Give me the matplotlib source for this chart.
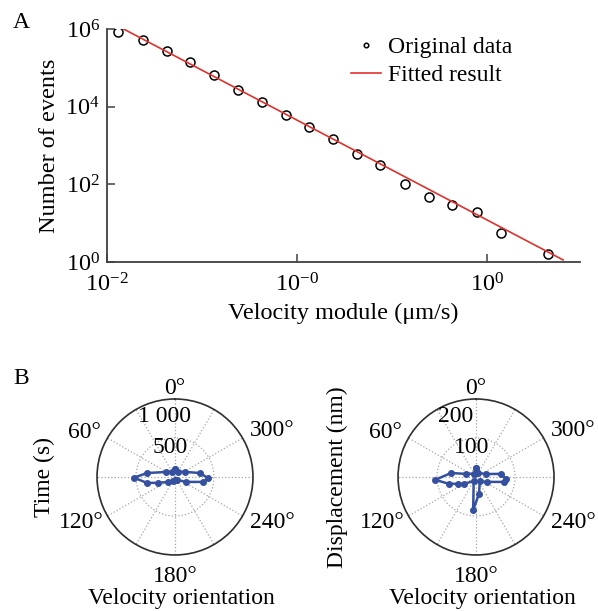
import numpy as np
import matplotlib
matplotlib.use("Agg")
import matplotlib.pyplot as plt

plt.rcParams['font.family'] = ['Liberation Serif', 'DejaVu Serif']
plt.rcParams['mathtext.fontset'] = 'custom'
plt.rcParams['mathtext.rm'] = 'Liberation Serif'
plt.rcParams['mathtext.it'] = 'Liberation Serif:italic'

# ---- panel A data: velocity distribution ----
velocity = [0.0114, 0.0155, 0.0207, 0.0274, 0.0366, 0.0490, 0.0655, 0.0875, 0.1156,
            0.155, 0.207, 0.274, 0.370, 0.495, 0.655, 0.885, 1.186, 2.094]
events = [832000, 525000, 269000, 141000, 66000, 26900, 13200, 6200, 3000,
          1480, 600, 316, 102, 48, 30, 19.5, 5.6, 1.6]
fit_velocity = [0.01143, 2.51]
fit_events = [1.19e6, 1.13]

xtick_vals = [1e-2, 1e-1, 1e0]
xtick_labels = ['$10^{-2}$', '$10^{-0}$', '$10^{0}$']
ytick_vals = [1e0, 1e2, 1e4, 1e6]
ytick_labels = ['$10^{0}$', '$10^{2}$', '$10^{4}$', '$10^{6}$']

# ---- panel B data: rose plots (angle in degrees, radius) ----
time_theta = [0, 30, 61, 82, 91, 102, 109, 125, 150, 180, 214, 246, 260, 268, 279, 297, 330, 360]
time_r = [103, 80, 132, 363, 526, 367, 231, 110, 60, 40, 46, 155, 365, 423, 325, 143, 80, 103]

disp_theta = [0, 30, 73, 81, 94, 104, 111, 120, 150, 175, 190, 220, 246, 260, 266, 277, 287, 330, 360]
disp_r = [23, 10, 27, 65, 105, 72, 49, 35, 12, 85, 44, 15, 31, 73, 77, 65, 26, 12, 23]

theta_grid = list(range(0, 360, 30))
theta_labels = ['0°', '60°', '120°', '180°', '240°', '300°']
# label spots around the circle, in axes fractions
theta_label_pos = [(0.5, 1.064), (-0.083, 0.788), (-0.103, 0.205),
                   (0.5, -0.141), (1.122, 0.205), (1.122, 0.795)]

fig = plt.figure(figsize=(5.98, 6.11), dpi=100)

# Panel A
ax = fig.add_axes([0.1789, 0.5712, 0.791, 0.3813])
ax.plot(velocity, events, 'o', mfc='none', mec='black', ms=6.5, mew=1.1, label='Original data')
ax.plot(fit_velocity, fit_events, '-', color='#e0322d', lw=1.2, label='Fitted result')
ax.set_xscale('log')
ax.set_yscale('log')
ax.set_xlim(1e-2, 3.08)
ax.set_ylim(1e0, 1e6)
ax.set_xticks(xtick_vals)
ax.set_xticklabels(xtick_labels)
ax.set_yticks(ytick_vals)
ax.set_yticklabels(ytick_labels)
ax.minorticks_off()
ax.tick_params(direction='in', length=6, width=1.1, labelsize=17.5, color='#404040')
ax.tick_params(axis='x', pad=8)
ax.tick_params(axis='y', pad=5)
for s in ['top', 'right']:
    ax.spines[s].set_visible(False)
for s in ['left', 'bottom']:
    ax.spines[s].set_color('#404040')
    ax.spines[s].set_linewidth(1.3)
ax.set_xlabel('Velocity module (μm/s)', fontsize=17.5, labelpad=5)
ax.set_ylabel('Number of events', fontsize=17.5, labelpad=4)
leg = ax.legend(loc='upper left', bbox_to_anchor=(0.47, 1.06), frameon=False, fontsize=17,
                handlelength=1.3, handletextpad=0.3, labelspacing=0.28, markerscale=0.5)

fig.text(0.022, 0.963, 'A', fontsize=17, va='center')
fig.text(0.022, 0.381, 'B', fontsize=17, va='center')


def rose(rect, theta, r, rmax, rlabels, ylabel, ylabel_x):
    pax = fig.add_axes(rect, projection='polar')
    pax.set_theta_zero_location('N')
    pax.set_theta_direction(1)
    pax.plot(np.deg2rad(theta), r, '-o', color='#34509f', lw=1.8, ms=4)
    pax.set_ylim(0, rmax)
    pax.set_yticks([rmax / 2, rmax])
    pax.set_yticklabels([])
    pax.set_xticks(np.deg2rad(theta_grid))
    pax.set_xticklabels([])
    pax.grid(True, ls=':', color='#aba4a8', lw=0.9)
    pax.spines['polar'].set_color('#303030')
    pax.spines['polar'].set_linewidth(1.2)
    for (px, py), txt in zip(theta_label_pos, theta_labels):
        pax.text(px, py, txt, transform=pax.transAxes, ha='center', va='center', fontsize=17)
    for (px, py), txt in rlabels:
        pax.text(px, py, txt, transform=pax.transAxes, ha='center', va='center', fontsize=17)
    pax.text(ylabel_x, 0.5, ylabel, transform=pax.transAxes, rotation=90,
             ha='center', va='center', fontsize=17)
    pax.text(0.54, -0.28, 'Velocity orientation', transform=pax.transAxes,
             ha='center', va='center', fontsize=17)
    return pax


rose([0.1622, 0.0917, 0.2609, 0.2553], time_theta, time_r, 1000,
     [((0.43, 0.885), '1 000'), ((0.468, 0.686), '500')], 'Time (s)', -0.34)
rose([0.6656, 0.0917, 0.2609, 0.2553], disp_theta, disp_r, 200,
     [((0.372, 0.885), '200'), ((0.474, 0.686), '100')], 'Displacement (nm)', -0.39)

fig.savefig('out.png', dpi=100)
